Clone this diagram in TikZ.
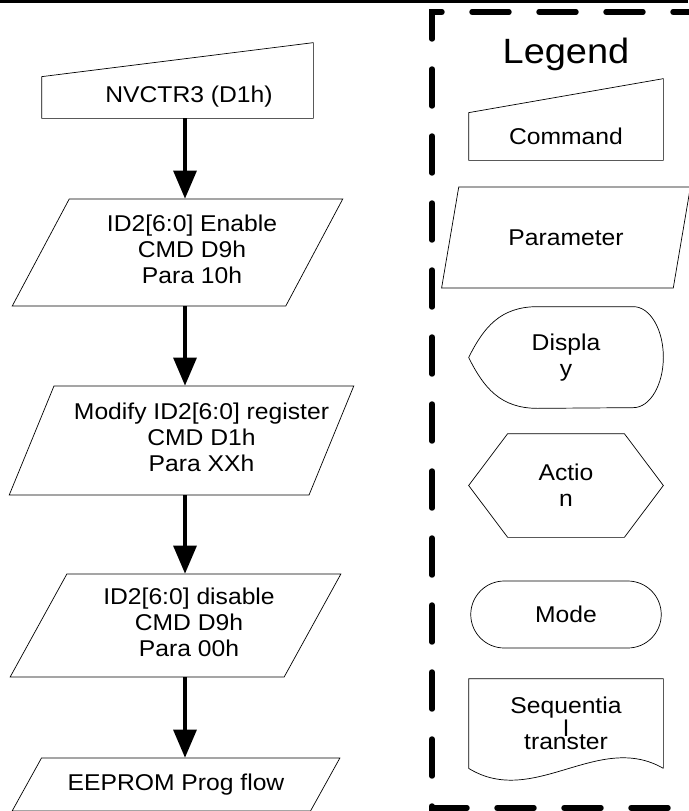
\documentclass[tikz,border=0pt]{standalone}
\usepackage{fontspec}
\setmainfont[FakeStretch=1.08]{Liberation Sans}
\usepackage{tikz}
\usetikzlibrary{arrows.meta,shapes.geometric,shapes.misc,positioning,calc}
% text pushed right inside a flow box (box width unchanged)
\newcommand{\shtx}[2]{\hspace*{#1}\begin{tabular}{@{}c@{}}#2\end{tabular}\hspace*{-#1}}

\begin{document}
\begin{tikzpicture}[
    font=\fontsize{13}{14.7}\selectfont,
    manin/.style={minimum width=5.42cm, minimum height=0.82cm, inner sep=1pt},
    parm/.style={draw, thin, trapezium, trapezium left angle=60, trapezium right angle=120,
                 trapezium stretches=true, inner sep=0pt},
    lgd/.style={minimum width=3.88cm, inner sep=1pt, align=center},
    arr/.style={-{Triangle[length=0.56cm, width=0.46cm]}, line width=1.8pt},
    legframe/.style={line width=3.1pt, dash pattern=on 0.74cm off 0.6cm, line cap=round}
]
\useasboundingbox (0,0) rectangle (13.76,-16.22);
\draw[line width=0.06cm] (0,-0.03) -- (13.76,-0.03);

% flow
\node[manin] (cmd) at (3.55,-1.95) {\shtx{0.23cm}{NVCTR3 (D1h)}};
\draw[thin] (cmd.south west) -- (cmd.north west) -- ([yshift=0.68cm]cmd.north east) -- (cmd.south east) -- cycle;
\node[parm, minimum width=6.62cm, minimum height=2.14cm] (en) at (3.55,-5.05) {\shtx{0.29cm}{ID2[6:0] Enable\\CMD D9h\\Para 10h}};
\node[parm, minimum width=6.74cm, minimum height=2.18cm] (mod) at (3.63,-8.81) {\shtx{0.4cm}{Modify ID2[6:0] register\\CMD D1h\\Para XXh}};
\node[parm, minimum width=6.62cm, minimum height=2.06cm] (dis) at (3.51,-12.51) {\shtx{0.27cm}{ID2[6:0] disable\\CMD D9h\\Para 00h}};
\node[parm, trapezium left angle=42, trapezium right angle=138, minimum width=6.56cm, minimum height=1.06cm] (prog) at (3.52,-15.69) {EEPROM Prog flow};

\coordinate (ax) at (3.7,0);
\draw[arr] (cmd.south -| ax) -- (en.north -| ax);
\draw[arr] (en.south -| ax) -- (mod.north -| ax);
\draw[arr] (mod.south -| ax) -- (dis.north -| ax);
\draw[arr] (dis.south -| ax) -- (prog.north -| ax);

% legend
\draw[legframe] (14.2,-0.24) -- (8.64,-0.24) -- (8.64,-16.16) -- (14.2,-16.16);
\node[font=\fontsize{20}{24}\selectfont] (ttl) at (11.32,-1.08) {Legend};

\node[lgd, minimum height=0.94cm] (lcmd) at (11.32,-2.73) {Command};
\draw[thin] (lcmd.south west) -- (lcmd.north west) -- ([yshift=0.68cm]lcmd.north east) -- (lcmd.south east) -- cycle;

\node[parm, minimum width=5.0cm, minimum height=2.02cm] (lpar) at (11.32,-4.75) {Parameter};

\node[lgd, minimum height=2.02cm] (ldisp) at (11.32,-7.15) {Displa\\y};
\draw[thin] (ldisp.west) .. controls +(0.3,0.6) and +(-0.75,0) .. ([xshift=1.38cm]ldisp.north west)
  -- ([xshift=-0.6cm]ldisp.north east) arc[start angle=90, end angle=-90, x radius=0.6cm, y radius=1.01cm]
  -- ([xshift=1.38cm]ldisp.south west) .. controls +(-0.75,0) and +(0.3,-0.6) .. (ldisp.west) -- cycle;

\node[lgd, minimum height=2.06cm] (lact) at (11.32,-9.71) {Actio\\n};
\draw[thin] (lact.west) -- ([xshift=0.78cm]lact.north west) -- ([xshift=-0.78cm]lact.north east) -- (lact.east)
  -- ([xshift=-0.78cm]lact.south east) -- ([xshift=0.78cm]lact.south west) -- cycle;

\node[lgd, draw, thin, rounded rectangle, minimum height=1.34cm] (lmode) at (11.32,-12.29) {Mode};

\node[lgd, minimum height=1.78cm] (lseq) at (11.32,-14.47) {Sequentia\\[-1.7pt]l\\[-7.3pt]transter};
\draw[thin] (lseq.south east) -- (lseq.north east) -- (lseq.north west) -- (lseq.south west)
  .. controls +(1.3,-0.8) and +(-1.3,0.75) .. (lseq.south east);
\end{tikzpicture}
\end{document}
